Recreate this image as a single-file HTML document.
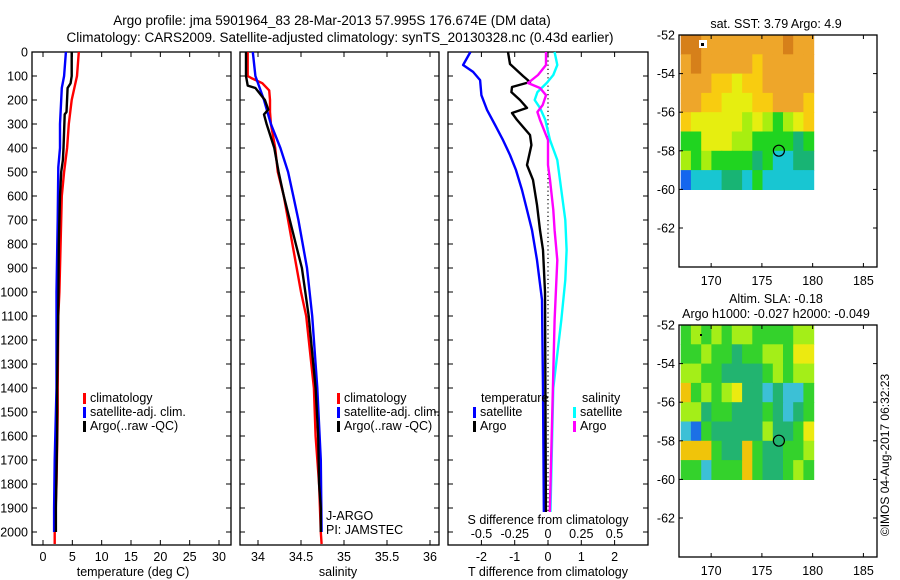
<!DOCTYPE html>
<html><head><meta charset="utf-8"><style>
html,body{margin:0;padding:0;background:#fff;}
svg{display:block;font-family:"Liberation Sans",sans-serif;}
</style></head><body>
<svg id="c" width="900" height="580" viewBox="0 0 900 580">
<text x="332" y="25" font-size="13.5" text-anchor="middle">Argo profile: jma 5901964_83 28-Mar-2013 57.995S 176.674E (DM data)</text>
<text x="340" y="42" font-size="13.5" text-anchor="middle">Climatology: CARS2009. Satellite-adjusted climatology: synTS_20130328.nc (0.43d earlier)</text>
</svg>
<script>
// ---- data ----
const tDepth = [0,100,200,300,400,500,600,700,800,900,1000,1100,1400,1500,1800,2000,2050];
const tClim  = [6.1,5.8,4.9,4.4,4.1,3.6,3.2,3.1,3.0,2.9,2.8,2.6,2.5,2.5,2.3,2.0,2.0];
const aDepth = [0,100,130,150,250,260,400,450,500,600,800,1000,1400,1600,1900,2000];
const tArgo  = [4.9,4.9,4.7,4.2,4.0,3.7,3.5,3.4,3.1,2.9,2.7,2.65,2.4,2.4,2.2,2.2];
const sDepth = [0,100,150,200,300,400,480,700,1000,1400,1700,1900,2000];
const tSat   = [3.9,3.6,3.2,3.1,2.9,2.9,2.6,2.5,2.3,2.3,2.0,1.9,1.9];

const sClimDepth = [0,100,110,130,160,200,250,300,400,500,600,700,800,900,1000,1100,1400,1600,1800,2000,2050];
const sClim      = [33.88,33.88,33.93,34.05,34.13,34.14,34.14,34.15,34.2,34.23,34.30,34.35,34.40,34.45,34.5,34.56,34.65,34.67,34.71,34.73,34.74];
const sArgoDepth = [0,100,140,150,200,240,260,300,400,500,600,700,800,900,1000,1100,1400,1600,1800,1900,2000];
const sArgo      = [33.86,33.86,33.88,33.97,34.08,34.12,34.07,34.10,34.19,34.24,34.30,34.37,34.44,34.51,34.55,34.59,34.67,34.70,34.71,34.73,34.73];
const sSatDepth  = [0,100,150,200,300,400,500,600,700,800,900,1000,1100,1400,1700,2000];
const sSat       = [33.94,33.97,34.02,34.07,34.15,34.26,34.35,34.41,34.47,34.52,34.57,34.60,34.63,34.69,34.73,34.74];

const dTSatDepth = [0,54,83,117,180,242,304,367,429,492,575,658,742,867,1033,1400,2000];
const dTSat      = [-2.33,-2.55,-2.25,-2.04,-2.0,-1.83,-1.59,-1.35,-1.14,-0.96,-0.78,-0.63,-0.48,-0.33,-0.18,-0.15,-0.12];
const dTArgoDepth = [0,50,100,125,146,167,200,233,254,283,346,388,471,533,637,742,825,1000,2000];
const dTArgo      = [-1.2,-1.14,-0.75,-0.54,-1.08,-1.1,-0.84,-0.63,-1.08,-0.93,-0.54,-0.5,-0.63,-0.45,-0.33,-0.24,-0.15,-0.09,-0.06];
const dSArgoDepth = [0,54,96,129,150,180,221,250,283,367,471,533,658,742,867,1117,2000];
const dSArgo      = [-0.015,-0.015,-0.075,-0.15,-0.06,-0.015,-0.04,-0.08,-0.06,0,0,0.015,0.04,0.05,0.07,0.05,0.01];
const dSSatDepth  = [0,54,96,129,167,200,233,283,367,450,575,700,825,950,1117,1400,2000];
const dSSat       = [0.05,0.07,0.04,-0.01,-0.08,-0.1,-0.06,-0.02,0.015,0.07,0.1,0.13,0.14,0.13,0.1,0.04,0.015];

const depthTicks = [0,100,200,300,400,500,600,700,800,900,1000,1100,1200,1300,1400,1500,1600,1700,1800,1900,2000];
const tTicks = [0,5,10,15,20,25,30];
const sTicks = [34,34.5,35,35.5,36];
const dTTicks = [-2,-1,0,1,2];
const dSTickLabels = ["-0.5","-0.25","0","0.25","0.5"];
const dSTicks = [-0.5,-0.25,0,0.25,0.5];

const latTicks = [-52,-54,-56,-58,-60,-62];
const lonTicks = [170,175,180,185];
const floatLon = 176.674, floatLat = -57.995;
const sstGrid = [
"0011111111011","1011111211111","1112232211111","1122333221112",
"2333334345432","5533344555565","4545555657766","8777667577777"];
const slaGrid = [
"2121211222211","2212232211200","1122333321211","6212103343442",
"1132233323432","4523333313320","6662336233221","2242226233212"];
const sstPal = ["#d6801a","#eea62a","#f8cc10","#e6ee10","#a8ee10","#20d420","#18b474","#18c6d2","#1466ee"];
const slaPal = ["#ecea10","#a4ee18","#34d22c","#22b470","#3cc0d6","#1c70e6","#f0c40a"];

// ---- helpers ----
const svg = document.getElementById('c');
const NS = 'http://www.w3.org/2000/svg';
function mk(tag, attrs, txt){ const e=document.createElementNS(NS,tag); for(const k in attrs) e.setAttribute(k,attrs[k]); if(txt!==undefined) e.textContent=txt; svg.appendChild(e); return e; }
const yTop=52, pxPer100=24.0;
const yD = d => yTop + d/100*pxPer100;
const xT = v => 43 + v*5.867;
const xS = v => 258 + (v-34)*86;
const xDT = v => 548 + v*33.3;
const xDS = v => 548 + v*133;

function panel(x0,x1,name){
  const r = mk('rect',{x:x0,y:yTop,width:x1-x0,height:545-yTop,fill:'none',stroke:'#000','stroke-width':1.3});
  
  
  depthTicks.forEach(d=>{
    mk('line',{x1:x0,x2:x0+5,y1:yD(d),y2:yD(d),stroke:'#000'});
    mk('line',{x1:x1-5,x2:x1,y1:yD(d),y2:yD(d),stroke:'#000'});
  });
}
function xticks(vals, fx, labels, name){
  vals.forEach((v,i)=>{
    const x=fx(v);
    mk('line',{x1:x,x2:x,y1:545,y2:540,stroke:'#000'});
    mk('line',{x1:x,x2:x,y1:yTop,y2:yTop+5,stroke:'#000'});
    const t=mk('text',{x:x,y:561,'font-size':12.5,'text-anchor':'middle'},labels?labels[i]:String(v));
    
    
  });
}
function line(depths, vals, fx, color, name, w){
  const pts=depths.map((d,i)=>fx(vals[i]).toFixed(1)+','+yD(d).toFixed(1));
  const p=mk('polyline',{points:pts.join(' '),fill:'none',stroke:color,'stroke-width':w||2.4,'stroke-linejoin':'round'});
  
  
}
function legend(x,y,color,label,name){
  mk('rect',{x:x,y:y-9,width:3,height:11,fill:color});
  const t=mk('text',{x:x+7,y:y,'font-size':12.5},label);
  
  
}
function label(x,y,txt,name,anchor,size){
  const t=mk('text',{x:x,y:y,'font-size':size||12.5,'text-anchor':anchor||'middle'},txt);
  
  
  return t;
}

// ---- panel 1: temperature ----
panel(32,231,'temperature-panel');
depthTicks.forEach(d=>label(28,yD(d)+4.5,String(d),'depth-tick-label','end'));
xticks(tTicks,xT,null,'temperature-tick-label');
label(133,576,'temperature (deg C)','temperature-axis-title');
line(tDepth,tClim,xT,'#f00','temp-climatology-line');
line(sDepth,tSat,xT,'#00f','temp-satellite-line');
line(aDepth,tArgo,xT,'#000','temp-argo-line');
legend(83,402,'#f00','climatology','legend-climatology');
legend(83,416,'#00f','satellite-adj. clim.','legend-satellite');
legend(83,430,'#000','Argo(..raw -QC)','legend-argo');

// ---- panel 2: salinity ----
panel(240,439,'salinity-panel');
xticks(sTicks,xS,null,'salinity-tick-label');
label(338,576,'salinity','salinity-axis-title');
line(sClimDepth,sClim,xS,'#f00','sal-climatology-line');
line(sSatDepth,sSat,xS,'#00f','sal-satellite-line');
line(sArgoDepth,sArgo,xS,'#000','sal-argo-line');
legend(337,402,'#f00','climatology','legend-climatology-2');
legend(337,416,'#00f','satellite-adj. clim.','legend-satellite-2');
legend(337,430,'#000','Argo(..raw -QC)','legend-argo-2');
label(326,520,'J-ARGO','data-centre-label','start');
label(326,534,'PI: JAMSTEC','pi-label','start');

// ---- panel 3: differences ----
panel(448,648,'difference-panel');
xticks(dTTicks,xDT,null,'t-difference-tick-label');
label(548,576,'T difference from climatology','t-difference-axis-title');
mk('line',{x1:548,x2:548,y1:yTop,y2:545,stroke:'#000','stroke-dasharray':'1.2,3','stroke-width':1.2});
line(dTSatDepth,dTSat,xDT,'#00f','tdiff-satellite-line');
line(dTArgoDepth,dTArgo,xDT,'#000','tdiff-argo-line');
line(dSSatDepth,dSSat,xDS,'#0ff','sdiff-satellite-line');
line(dSArgoDepth,dSArgo,xDS,'#f0f','sdiff-argo-line');
label(481,402,'temperature','legend-temperature-heading','start');
legend(473,416,'#00f','satellite','legend-t-satellite');
legend(473,430,'#000','Argo','legend-t-argo');
label(582,402,'salinity','legend-salinity-heading','start');
legend(573,416,'#0ff','satellite','legend-s-satellite');
legend(573,430,'#f0f','Argo','legend-s-argo');
mk('rect',{x:466,y:512,width:164,height:28,fill:'#fff'});
label(548,524,'S difference from climatology','s-difference-axis-title');
dSTicks.forEach((v,i)=>label(xDS(v),538,dSTickLabels[i],'s-difference-tick-label'));

// ---- maps ----
const xL = v => 680.7 + (v-167)*10.15;
function map(top, grid, pal, name, titles){
  const yL = v => top + (-52 - v)*19.3;
  const g=document.createElementNS(NS,'g'); svg.appendChild(g);
  
  
  const cw=(xL(180.1)-xL(167))/13, ch=19.3;
  grid.forEach((row,r)=>{ for(let c=0;c<row.length;c++){
    const e=document.createElementNS(NS,'rect');
    e.setAttribute('x',(xL(167)+c*cw).toFixed(1)); e.setAttribute('y',(yL(-52)+r*ch).toFixed(1));
    e.setAttribute('width',(cw+0.6).toFixed(1)); e.setAttribute('height',(ch+0.6).toFixed(1));
    e.setAttribute('fill',pal[+row[c]]); g.appendChild(e);
  }});
  const box=mk('rect',{x:679,y:top,width:198,height:232,fill:'none',stroke:'#000','stroke-width':1.3});
  
  
  latTicks.forEach(v=>{
    mk('line',{x1:679,x2:683,y1:yL(v),y2:yL(v),stroke:'#000'});
    mk('line',{x1:873,x2:877,y1:yL(v),y2:yL(v),stroke:'#000'});
    label(675,yL(v)+4.5,String(v),'latitude-tick-label','end');
  });
  lonTicks.forEach(v=>{
    mk('line',{x1:xL(v),x2:xL(v),y1:top,y2:top+4,stroke:'#000'});
    mk('line',{x1:xL(v),x2:xL(v),y1:top+228,y2:top+232,stroke:'#000'});
    label(xL(v),top+250,String(v),'longitude-tick-label');
  });
  const c=mk('circle',{cx:xL(floatLon),cy:yL(floatLat),r:5.5,fill:'none',stroke:'#000','stroke-width':1.2});
  
  
  titles.forEach((t,i)=>label(776,top-22+i*15+(titles.length===1?15:0),t,name+'-title'));
}
map(35,sstGrid,sstPal,'sst-map',['sat. SST: 3.79 Argo: 4.9']);
mk('rect',{x:699,y:40,width:8,height:8,fill:'#fff'});
mk('rect',{x:701,y:43,width:3,height:3,fill:'#000'});
map(325,slaGrid,slaPal,'sla-map',['Altim. SLA: -0.18','Argo h1000: -0.027 h2000: -0.049']);
mk('rect',{x:700,y:334,width:2,height:2,fill:'#000'});
const cp=label(0,0,'©IMOS 04-Aug-2017 06:32:23','copyright-label','middle',12);
cp.setAttribute('transform','translate(889,455) rotate(-90)');
</script>
</body></html>
